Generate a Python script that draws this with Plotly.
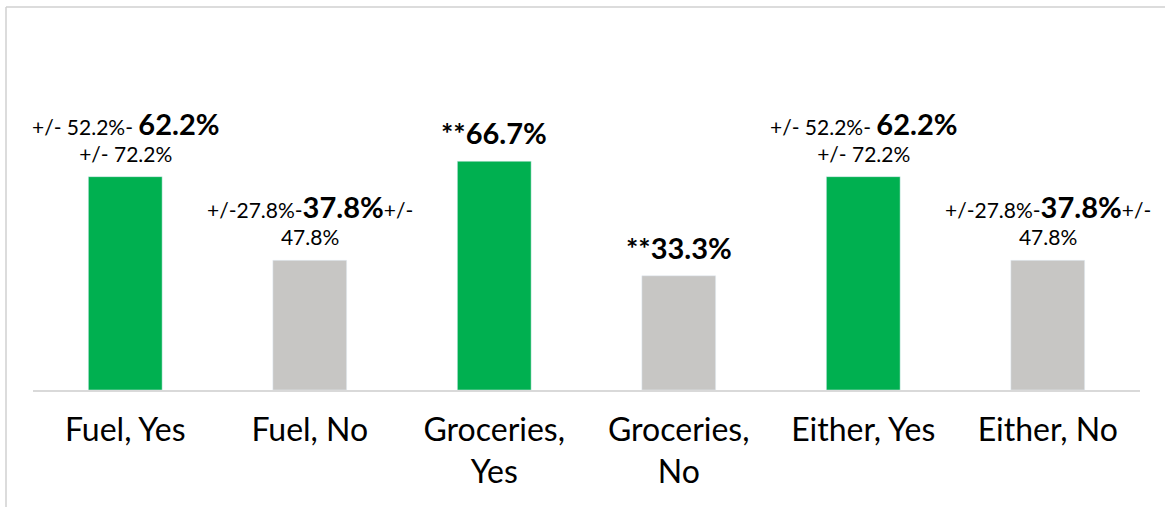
import plotly.graph_objects as go

categories = ["Fuel, Yes", "Fuel, No", "Groceries,<br>Yes", "Groceries,<br>No", "Either, Yes", "Either, No"]
values = [62.2, 37.8, 66.7, 33.3, 62.2, 37.8]
low_ci = [52.2, 27.8, None, None, 52.2, 27.8]
high_ci = [72.2, 47.8, None, None, 72.2, 47.8]
flags = ["", "", "**", "**", "", ""]
colors = ["#00B050", "#C7C6C4", "#00B050", "#C7C6C4", "#00B050", "#C7C6C4"]

FONT = "Lato, 'Open Sans', sans-serif"

fig = go.Figure(go.Bar(
    x=categories, y=values, marker_color=colors, width=0.4,
    hoverinfo="skip",
))

big = 29
for i, (c, v) in enumerate(zip(categories, values)):
    if low_ci[i] is None:
        txt = f"<b><span style='font-size:{big}px'>{flags[i]}{v:.1f}%</span></b>"
    elif c.startswith("Fuel, Y") or c.startswith("Either, Y"):
        txt = (f"+/- {low_ci[i]:.1f}%- <b><span style='font-size:{big}px'>{v:.1f}%</span></b>"
               f"<br>+/- {high_ci[i]:.1f}%")
    else:
        txt = (f"+/-{low_ci[i]:.1f}%-<b><span style='font-size:{big}px'>{v:.1f}%</span></b>+/-"
               f"<br>{high_ci[i]:.1f}%")
    fig.add_annotation(x=c, y=v, text=txt, showarrow=False, yanchor="bottom",
                       yshift=9, align="center",
                       font=dict(family=FONT, size=21, color="#000000"))

# outer chart border (top and left)
fig.add_shape(type="line", xref="paper", yref="paper", x0=-27/1107, x1=1.05,
              y0=1 + 40/343, y1=1 + 40/343, line=dict(color="#D0D0D0", width=1.5))
fig.add_shape(type="line", xref="paper", yref="paper", x0=-27/1107, x1=-27/1107,
              y0=-0.5, y1=1 + 40/343, line=dict(color="#D0D0D0", width=1.5))

fig.update_layout(
    width=1165, height=507,
    margin=dict(l=33, r=25, t=47, b=117, autoexpand=False),
    paper_bgcolor="white", plot_bgcolor="white",
    showlegend=False,
    font=dict(family=FONT, color="#000000"),
    bargap=0.6,
)
fig.update_xaxes(showline=True, linecolor="#D9D9D9", linewidth=1.5,
                 range=[-0.5, len(categories) - 0.5],
                 tickfont=dict(family=FONT, size=32, color="#000000"),
                 ticks="outside", ticklen=11, tickcolor="rgba(0,0,0,0)",
                 showgrid=False, fixedrange=True, automargin=False)
fig.update_yaxes(range=[0, 100], visible=False, showgrid=False, fixedrange=True,
                 automargin=False)

fig.write_html("out.html", config={"displayModeBar": False})
